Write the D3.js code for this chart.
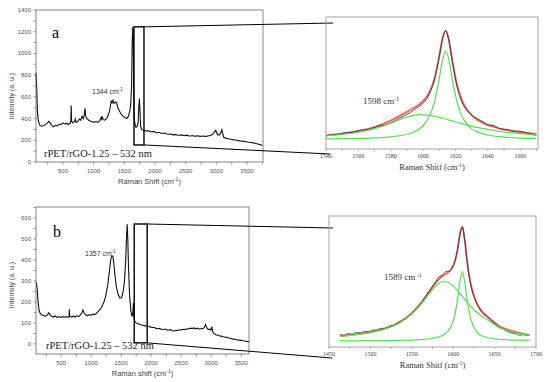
<!DOCTYPE html>
<html>
<head>
<meta charset="utf-8">
<script src="https://cdn.jsdelivr.net/npm/d3@7"></script>
<style>
  body { margin: 0; background: #fff; }
  svg { display: block; }
</style>
</head>
<body>
<div id="vis"></div>
<script>
// ---- data ----
// panel a, full spectrum [Raman shift, intensity]
var spectrumA = [[60,820],[70,700],[85,450],[100,370],[125,335],[160,330],[200,340],[240,355],[270,375],[290,360],[320,335],[350,325],[380,340],[410,332],[440,350],[470,345],[500,360],[530,350],[560,355],[590,345],[620,360],[628,380],[634,520],[640,375],[660,360],[690,380],[700,395],[710,365],[740,375],[770,395],[790,385],[810,420],[830,400],[845,430],[858,495],[870,420],[890,400],[920,385],[950,375],[980,370],[1010,365],[1040,375],[1070,365],[1100,380],[1120,410],[1130,395],[1140,420],[1155,390],[1180,385],[1200,395],[1230,420],[1260,470],[1285,560],[1300,545],[1315,570],[1330,540],[1345,545],[1360,555],[1375,545],[1395,500],[1420,470],[1450,440],[1480,420],[1510,410],[1540,400],[1565,420],[1590,470],[1605,540],[1618,700],[1628,1100],[1636,1240],[1645,1200],[1652,700],[1660,400],[1675,345],[1690,320],[1710,330],[1725,360],[1735,500],[1745,585],[1755,470],[1765,330],[1780,300],[1800,295],[1830,290],[1860,285],[1890,290],[1920,280],[1950,278],[1980,282],[2010,272],[2040,270],[2070,274],[2100,265],[2130,262],[2160,266],[2190,258],[2220,256],[2250,260],[2280,252],[2310,250],[2340,254],[2370,247],[2400,246],[2430,250],[2460,244],[2490,243],[2520,247],[2550,241],[2580,240],[2610,244],[2640,238],[2670,238],[2700,242],[2730,236],[2760,237],[2790,240],[2820,236],[2850,238],[2880,242],[2910,246],[2940,255],[2970,275],[2990,292],[3005,268],[3025,250],[3050,250],[3070,268],[3090,298],[3105,258],[3120,228],[3150,220],[3180,216],[3210,212],[3240,209],[3270,206],[3300,203],[3330,200],[3360,197],[3390,194],[3420,192],[3450,190],[3480,187],[3510,184],[3540,182],[3570,179],[3600,176],[3630,172],[3660,168],[3690,164],[3720,158],[3750,152]];

// panel b, full spectrum
var spectrumB = [[80,295],[90,285],[100,260],[115,200],[130,160],[150,145],[180,138],[210,135],[240,132],[270,138],[290,148],[310,140],[340,132],[370,128],[400,133],[430,126],[460,130],[490,125],[520,131],[550,127],[580,130],[610,126],[630,130],[636,165],[642,130],[670,128],[700,132],[730,128],[760,134],[790,130],[820,138],[845,148],[862,162],[880,148],[910,138],[940,135],[970,140],[1000,136],[1030,142],[1060,140],[1090,146],[1110,152],[1130,160],[1160,168],[1190,185],[1220,205],[1250,240],[1280,290],[1305,350],[1325,400],[1345,420],[1360,418],[1375,390],[1395,330],[1420,270],[1450,235],[1480,218],[1505,220],[1530,245],[1555,300],[1575,400],[1590,520],[1600,570],[1610,500],[1622,360],[1640,230],[1660,160],[1680,130],[1695,150],[1703,195],[1712,130],[1725,108],[1750,100],[1780,96],[1810,92],[1840,90],[1870,88],[1900,86],[1930,84],[1960,84],[1990,80],[2020,78],[2050,79],[2080,74],[2110,72],[2140,74],[2170,70],[2200,69],[2230,71],[2260,66],[2290,66],[2320,68],[2350,63],[2380,62],[2410,65],[2440,64],[2470,67],[2500,66],[2530,70],[2560,68],[2590,72],[2620,71],[2650,75],[2680,73],[2710,76],[2740,72],[2770,75],[2800,70],[2830,73],[2860,72],[2885,78],[2905,92],[2925,78],[2950,68],[2975,70],[2995,66],[3010,82],[3025,58],[3050,48],[3080,44],[3110,42],[3140,38],[3170,37],[3200,34],[3230,32],[3260,31],[3290,28],[3320,27],[3350,24],[3380,23],[3410,21],[3440,19],[3470,18],[3500,17],[3530,15],[3560,14],[3590,12],[3620,11],[3630,10]];

// zoomed G band fits, panel a (arbitrary units)
var insetAX     = [1540,1550,1560,1570,1580,1588,1594,1598,1600,1604,1607,1610,1612,1614,1616,1618,1621,1624,1628,1634,1640,1650,1660,1670];
var insetABroad = [10.0,11.1,12.7,15.4,19.5,23.4,25.5,26.0,25.9,25.5,24.8,24.0,23.4,22.7,22.0,21.3,20.3,19.2,18.0,16.2,14.8,12.9,11.6,10.6];
var insetANarrow= [7.6,7.8,8.0,8.4,9.2,10.6,12.7,15.4,17.6,24.9,35.5,53.5,67.3,74.0,67.3,53.5,35.5,24.9,17.6,12.7,10.6,9.0,8.3,8.0];
var insetAFit   = [10.4,11.7,13.5,16.6,21.5,26.8,31.0,34.2,36.3,43.2,53.1,70.3,83.5,89.5,82.1,67.6,48.6,36.9,28.4,21.7,18.2,14.7,12.7,11.4];
var insetAData  = [[1540,10.0],[1544,11.0],[1548,11.2],[1552,12.4],[1556,12.6],[1560,14.0],[1564,14.6],[1568,15.4],[1572,17.2],[1576,18.0],[1580,19.8],[1584,22.5],[1588,24.9],[1592,27.6],[1596,31.0],[1600,34.6],[1604,42.0],[1607,52.5],[1610,70.0],[1612,83.8],[1614,89.8],[1616,82.0],[1618,66.5],[1621,47.0],[1624,35.5],[1628,28.0],[1632,24.0],[1636,21.4],[1640,18.4],[1644,17.6],[1648,15.2],[1652,14.8],[1656,13.6],[1660,13.4],[1664,12.2],[1668,11.0],[1670,10.2]];

// zoomed G band fits, panel b
var insetBX     = [1463,1475,1490,1505,1520,1535,1550,1560,1570,1578,1584,1589,1594,1598,1602,1605,1608,1611,1614,1617,1620,1624,1630,1636,1645,1655,1665,1678,1692];
var insetBBroad = [8.2,8.9,10.0,11.7,14.2,18.3,25.1,31.7,39.7,46.0,49.1,50.0,49.2,47.6,45.3,43.2,41.0,38.7,36.4,34.2,32.0,29.3,25.8,22.8,19.2,15.0,12.5,10.4,8.8];
var insetBNarrow= [4.7,4.7,4.8,4.8,4.9,5.1,5.3,5.6,6.1,6.9,7.9,9.5,12.3,16.5,24.6,35.1,49.4,57.6,49.4,35.1,24.6,16.5,10.3,8.2,6.7,5.9,5.5,5.2,5.0];
var insetBFit   = [8.3,9.0,10.2,11.9,14.5,18.8,25.8,32.7,41.2,48.3,52.4,54.9,56.9,59.5,65.3,73.7,85.8,91.7,81.2,64.7,52.0,41.2,31.5,26.4,21.3,16.3,13.4,11.0,9.2];
var insetBData  = [[1463,9.5],[1468,9.0],[1473,10.2],[1478,9.8],[1483,11.0],[1488,10.8],[1493,11.8],[1498,11.6],[1503,12.8],[1508,13.0],[1513,14.2],[1518,14.4],[1523,16.0],[1528,16.4],[1533,18.6],[1538,20.0],[1543,22.0],[1548,24.6],[1553,27.4],[1558,31.0],[1563,35.0],[1568,40.0],[1573,44.5],[1578,49.0],[1583,53.5],[1587,55.0],[1591,57.5],[1595,58.0],[1599,61.0],[1602,65.5],[1605,73.0],[1608,85.0],[1611,92.0],[1614,81.5],[1617,64.0],[1620,51.0],[1624,40.5],[1628,34.0],[1632,29.0],[1636,25.5],[1640,23.5],[1645,20.5],[1650,18.0],[1655,15.4],[1660,13.8],[1665,12.0],[1670,10.8],[1675,10.2],[1680,9.0],[1685,9.4],[1690,8.8],[1692,9.0]];

// tick labels
var xTicksMain = [500,1000,1500,2000,2500,3000,3500];
var yTicksA = [0,200,400,600,800,1000,1200,1400];
var yTicksB = [0,100,200,300,400,500,600];
var xTicksInsetA = [1540,1560,1580,1600,1620,1640,1660];
var xTicksInsetB = [1450,1500,1550,1600,1650,1700];

var width = 554, height = 382;
var sans = 'Liberation Sans, Arial, sans-serif';
var serif = 'Liberation Serif, Times New Roman, serif';

var svg = d3.select('#vis').append('svg')
  .attr('width', width)
  .attr('height', height);

function addCm(sel, prefix, sup, supSize, dy) {
  sel.append('tspan').text(prefix);
  sel.append('tspan').attr('dy', -dy).style('font-size', supSize + 'px').text(sup);
}

function mainPanel(p) {
  var x = d3.scaleLinear().domain(p.xDomain).range([p.left, p.right]);
  var y = d3.scaleLinear().domain(p.yDomain).range([p.bottom, p.top]);
  var g = svg.append('g');

  // minor + major ticks, outward
  g.selectAll('.xt').data(d3.range(250, p.xDomain[1], 250)).enter().append('line')
    .attr('x1', function (d) { return x(d); }).attr('x2', function (d) { return x(d); })
    .attr('y1', p.bottom).attr('y2', p.bottom + 2.5)
    .attr('stroke', '#666').attr('stroke-width', 0.7);
  g.selectAll('.yt').data(d3.range(p.yDomain[0] < 0 ? 0 : 0, p.yDomain[1] + 1, p.yMinor)).enter().append('line')
    .attr('x1', p.left - 2.5).attr('x2', p.left)
    .attr('y1', function (d) { return y(d); }).attr('y2', function (d) { return y(d); })
    .attr('stroke', '#666').attr('stroke-width', 0.7);

  g.selectAll('.xl').data(xTicksMain).enter().append('text')
    .attr('x', function (d) { return x(d); })
    .attr('y', p.bottom + 10.5)
    .attr('text-anchor', 'middle')
    .style('font-family', sans).style('font-size', '6px').style('fill', '#555')
    .text(function (d) { return d; });
  g.selectAll('.yl').data(p.yTicks).enter().append('text')
    .attr('x', p.left - 5)
    .attr('y', function (d) { return y(d) + 2; })
    .attr('text-anchor', 'end')
    .style('font-family', sans).style('font-size', '6px').style('fill', '#555')
    .text(function (d) { return d; });

  var line = d3.line()
    .x(function (d) { return x(d[0]); })
    .y(function (d) { return y(d[1]); });
  g.append('path').datum(p.spectrum)
    .attr('d', line)
    .attr('fill', 'none').attr('stroke', '#111').attr('stroke-width', 1.1);

  g.append('rect')
    .attr('x', p.left).attr('y', p.top)
    .attr('width', p.right - p.left).attr('height', p.bottom - p.top)
    .attr('fill', 'none').attr('stroke', '#666').attr('stroke-width', 0.8);

  // axis titles
  var xt = g.append('text')
    .attr('x', (p.left + p.right) / 2).attr('y', p.bottom + 22)
    .attr('text-anchor', 'middle')
    .style('font-family', sans).style('font-size', '7.5px').style('fill', '#444');
  addCm(xt, p.xTitle + ' (cm', '-1', 5, 3);
  xt.append('tspan').attr('dy', 3).text(')');

  g.append('text')
    .attr('transform', 'translate(' + 14 + ',' + p.yTitleY + ') rotate(-90)')
    .attr('text-anchor', 'middle')
    .style('font-family', sans).style('font-size', '7px').style('fill', '#444')
    .text('Intensity (a. u.)');

  // zoom box
  var b = p.box;
  g.append('rect')
    .attr('x', x(b[0])).attr('y', y(b[3]))
    .attr('width', x(b[1]) - x(b[0])).attr('height', y(b[2]) - y(b[3]))
    .attr('fill', 'none').attr('stroke', '#000').attr('stroke-width', 1.4);
  g.append('line')
    .attr('x1', x(b[1])).attr('y1', y(b[3]))
    .attr('x2', p.connTop[0]).attr('y2', p.connTop[1])
    .attr('stroke', '#000').attr('stroke-width', 1);
  g.append('line')
    .attr('x1', x(b[1])).attr('y1', y(b[2]))
    .attr('x2', p.connBottom[0]).attr('y2', p.connBottom[1])
    .attr('stroke', '#000').attr('stroke-width', 1);

  // labels
  g.append('text').attr('x', p.letterPos[0]).attr('y', p.letterPos[1])
    .style('font-family', serif).style('font-size', '16px').style('fill', '#000')
    .text(p.letter);
  var pk = g.append('text').attr('x', p.peakPos[0]).attr('y', p.peakPos[1])
    .style('font-family', sans).style('font-size', '7px').style('fill', '#333');
  addCm(pk, p.peakLabel + ' cm', '-1', 4.5, 3);
  g.append('text').attr('x', p.samplePos[0]).attr('y', p.samplePos[1])
    .style('font-family', serif).style('font-size', '10.5px').style('fill', '#222')
    .text('rPET/rGO-1.25 \u2013 532 nm');
}

function insetPanel(p) {
  var x = d3.scaleLinear().domain(p.xDomain).range([p.left, p.right]);
  var y = d3.scaleLinear().domain([0, 100]).range([p.bottom, p.top]);
  var g = svg.append('g');

  g.selectAll('.xt').data(d3.range(p.xDomain[0], p.xDomain[1] + 0.1, p.minor)).enter().append('line')
    .attr('x1', function (d) { return x(d); }).attr('x2', function (d) { return x(d); })
    .attr('y1', p.bottom).attr('y2', p.bottom + 2)
    .attr('stroke', '#777').attr('stroke-width', 0.6);
  g.selectAll('.xl').data(p.ticks).enter().append('text')
    .attr('x', function (d) { return x(d); })
    .attr('y', p.bottom + 9)
    .attr('text-anchor', 'middle')
    .style('font-family', serif).style('font-size', '6px').style('fill', '#444')
    .text(function (d) { return d; });

  var fitLine = d3.line().curve(d3.curveMonotoneX)
    .x(function (d) { return x(d[0]); })
    .y(function (d) { return y(d[1]); });
  function pairs(vals) { return p.xs.map(function (v, i) { return [v, vals[i]]; }); }

  g.append('path').datum(pairs(p.fit)).attr('d', fitLine)
    .attr('fill', 'none').attr('stroke', '#ff5a5a').attr('stroke-width', 1.8);
  g.append('path').datum(p.data).attr('d', fitLine)
    .attr('fill', 'none').attr('stroke', '#3a3a3a').attr('stroke-width', 0.9);
  g.append('path').datum(pairs(p.broad)).attr('d', fitLine)
    .attr('fill', 'none').attr('stroke', '#4fe24f').attr('stroke-width', 1.2);
  g.append('path').datum(pairs(p.narrow)).attr('d', fitLine)
    .attr('fill', 'none').attr('stroke', '#4fe24f').attr('stroke-width', 1.2);

  g.append('rect')
    .attr('x', p.left).attr('y', p.top)
    .attr('width', p.right - p.left).attr('height', p.bottom - p.top)
    .attr('fill', 'none').attr('stroke', '#999').attr('stroke-width', 0.9);

  var t = g.append('text')
    .attr('x', (p.left + p.right) / 2).attr('y', p.bottom + 21)
    .attr('text-anchor', 'middle')
    .style('font-family', serif).style('font-size', '8.5px').style('fill', '#333');
  addCm(t, 'Raman Shitf (cm', '-1', 5.5, 3);
  t.append('tspan').attr('dy', 3).text(')');

  var lb = g.append('text').attr('x', p.labelPos[0]).attr('y', p.labelPos[1])
    .style('font-family', serif).style('font-size', '9px').style('fill', '#333');
  addCm(lb, p.label + ' cm', p.labelSup, 6, 3);
}

mainPanel({
  left: 36, right: 263, top: 10, bottom: 162,
  xDomain: [60, 3760], yDomain: [0, 1400], yTicks: yTicksA, yMinor: 100,
  spectrum: spectrumA, xTitle: 'Raman Shift', yTitleY: 96,
  box: [1657, 1820, 157, 1245], connTop: [333, 23], connBottom: [330, 154],
  letter: 'a', letterPos: [52, 38], peakLabel: '1344', peakPos: [92, 94],
  samplePos: [44, 157]
});

mainPanel({
  left: 36, right: 249, top: 207, bottom: 354,
  xDomain: [80, 3630], yDomain: [-48, 652], yTicks: yTicksB, yMinor: 50,
  spectrum: spectrumB, xTitle: 'Raman shift', yTitleY: 285,
  box: [1717, 1933, 5, 571], connTop: [333, 228], connBottom: [332, 358],
  letter: 'b', letterPos: [53, 237], peakLabel: '1357', peakPos: [85, 256],
  samplePos: [46, 349]
});

insetPanel({
  left: 326, right: 538, top: 17, bottom: 149,
  xDomain: [1540, 1671], minor: 10, ticks: xTicksInsetA,
  xs: insetAX, fit: insetAFit, broad: insetABroad, narrow: insetANarrow, data: insetAData,
  label: '1598', labelSup: '-1', labelPos: [363, 104]
});

insetPanel({
  left: 329, right: 536, top: 216, bottom: 347,
  xDomain: [1450, 1700], minor: 25, ticks: xTicksInsetB,
  xs: insetBX, fit: insetBFit, broad: insetBBroad, narrow: insetBNarrow, data: insetBData,
  label: '1589', labelSup: ' -1', labelPos: [384, 280]
});
</script>
</body>
</html>
